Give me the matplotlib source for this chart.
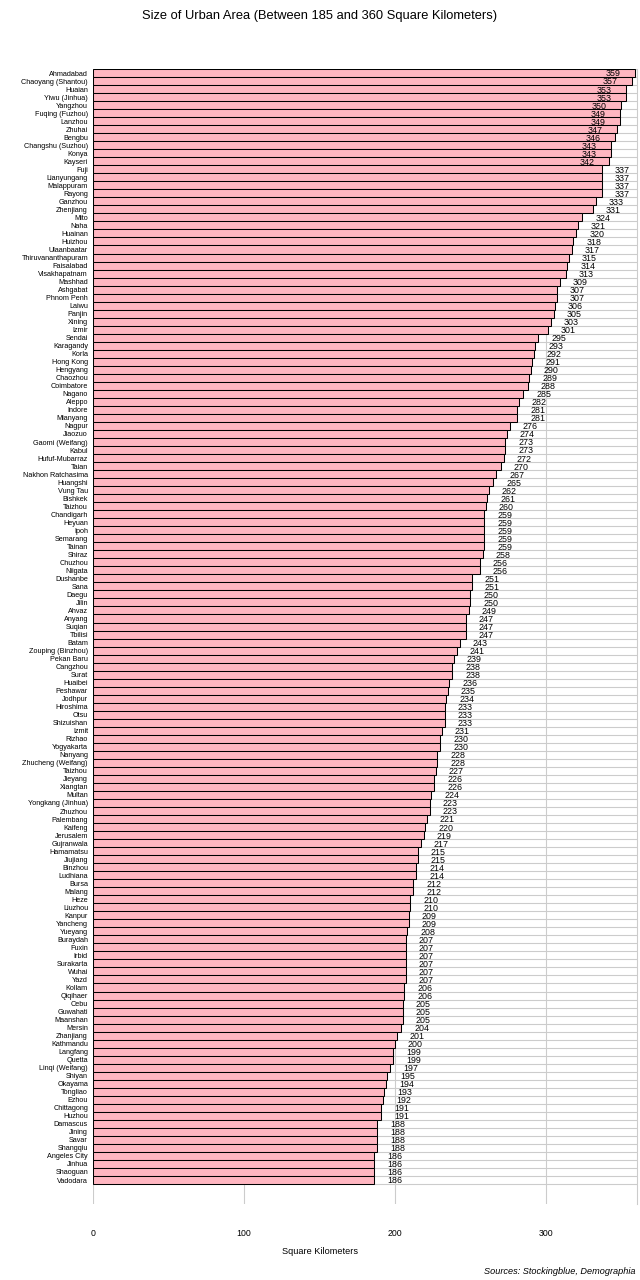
import matplotlib
matplotlib.use("Agg")
import matplotlib.pyplot as plt
import numpy as np

plt.rcParams['font.family'] = ['Liberation Sans', 'DejaVu Sans']

cities = [
    "Ahmadabad", "Chaoyang (Shantou)", "Huaian", "Yiwu (Jinhua)", "Yangzhou",
    "Fuqing (Fuzhou)", "Lanzhou", "Zhuhai", "Bengbu", "Changshu (Suzhou)",
    "Konya", "Kayseri", "Fuji", "Lianyungang", "Malappuram", "Rayong",
    "Ganzhou", "Zhenjiang", "Mito", "Naha", "Huainan", "Huizhou",
    "Ulaanbaatar", "Thiruvananthapuram", "Faisalabad", "Visakhapatnam",
    "Mashhad", "Ashgabat", "Phnom Penh", "Laiwu", "Panjin", "Xining", "Izmir",
    "Sendai", "Karagandy", "Korla", "Hong Kong", "Hengyang", "Chaozhou",
    "Coimbatore", "Nagano", "Aleppo", "Indore", "Mianyang", "Nagpur",
    "Jiaozuo", "Gaomi (Weifang)", "Kabul", "Hufuf-Mubarraz", "Taian",
    "Nakhon Ratchasima", "Huangshi", "Vung Tau", "Bishkek", "Taizhou",
    "Chandigarh", "Heyuan", "Ipoh", "Semarang", "Tainan", "Shiraz", "Chuzhou",
    "Niigata", "Dushanbe", "Sana", "Daegu", "Jilin", "Ahvaz", "Anyang",
    "Suqian", "Tbilisi", "Batam", "Zouping (Binzhou)", "Pekan Baru",
    "Cangzhou", "Surat", "Huaibei", "Peshawar", "Jodhpur", "Hiroshima", "Otsu",
    "Shizuishan", "Izmit", "Rizhao", "Yogyakarta", "Nanyang",
    "Zhucheng (Weifang)", "Taizhou", "Jieyang", "Xiangtan", "Multan",
    "Yongkang (Jinhua)", "Zhuzhou", "Palembang", "Kaifeng", "Jerusalem",
    "Gujranwala", "Hamamatsu", "Jiujiang", "Binzhou", "Ludhiana", "Bursa",
    "Malang", "Heze", "Liuzhou", "Kanpur", "Yancheng", "Yueyang", "Buraydah",
    "Fuxin", "Irbid", "Surakarta", "Wuhai", "Yazd", "Kollam", "Qiqihaer",
    "Cebu", "Guwahati", "Maanshan", "Mersin", "Zhanjiang", "Kathmandu",
    "Langfang", "Quetta", "Linqi (Weifang)", "Shiyan", "Okayama", "Tongliao",
    "Ezhou", "Chittagong", "Huzhou", "Damascus", "Jining", "Savar",
    "Shangqiu", "Angeles City", "Jinhua", "Shaoguan", "Vadodara",
]

areas = [
    359, 357, 353, 353, 350, 349, 349, 347, 346, 343, 343, 342, 337, 337, 337,
    337, 333, 331, 324, 321, 320, 318, 317, 315, 314, 313, 309, 307, 307, 306,
    305, 303, 301, 295, 293, 292, 291, 290, 289, 288, 285, 282, 281, 281, 276,
    274, 273, 273, 272, 270, 267, 265, 262, 261, 260, 259, 259, 259, 259, 259,
    258, 256, 256, 251, 251, 250, 250, 249, 247, 247, 247, 243, 241, 239, 238,
    238, 236, 235, 234, 233, 233, 233, 231, 230, 230, 228, 228, 227, 226, 226,
    224, 223, 223, 221, 220, 219, 217, 215, 215, 214, 214, 212, 212, 210, 210,
    209, 209, 208, 207, 207, 207, 207, 207, 207, 206, 206, 205, 205, 205, 204,
    201, 200, 199, 199, 197, 195, 194, 193, 192, 191, 191, 188, 188, 188, 188,
    186, 186, 186, 186,
]

xticks = [0, 100, 200, 300]
title = "Size of Urban Area (Between 185 and 360 Square Kilometers)"
xlabel = "Square Kilometers"
source = "Sources: Stockingblue, Demographia"

W, H = 640, 1280
fig = plt.figure(figsize=(W / 100, H / 100), dpi=100)
ax = fig.add_axes([93 / W, 1 - 1204 / H, (636.6 - 93) / W, (1204 - 69) / H])

n = len(cities)
y = np.arange(n)
ax.barh(y, areas, height=1.0, color="#ffb6c1", edgecolor="black",
        linewidth=0.75, zorder=3)

ax.set_xlim(0, 360)
ax.set_ylim(n - 0.5 + 2.49, -0.5)

ax.set_yticks(y)
ax.set_yticklabels(cities, fontsize=5.2)
ax.set_yticks(np.arange(n + 1) - 0.5, minor=True)
ax.tick_params(axis='y', which='both', length=0, pad=3.6)
ax.set_xticks(xticks)
ax.set_xticklabels([str(t) for t in xticks], fontsize=6.3)
ax.tick_params(axis='x', length=0, pad=18)

ax.set_axisbelow(True)
ax.grid(axis='x', which='major', color='#cccccc', linewidth=0.8)
ax.grid(axis='y', which='minor', color='#cccccc', linewidth=0.8)
ax.grid(axis='y', which='major', visible=False)

for s in ['top', 'left', 'bottom']:
    ax.spines[s].set_visible(False)
ax.spines['right'].set_color('#cccccc')
ax.spines['right'].set_linewidth(0.8)

for yi, v in zip(y, areas):
    if v > 340:
        ax.text(v - 9.6, yi + 0.12, str(v), ha='right', va='center',
                fontsize=6.4, color='black', zorder=4)
    else:
        ax.text(v + 8.6, yi + 0.12, str(v), ha='left', va='center',
                fontsize=6.4, color='black', zorder=4, clip_on=False)

fig.text(0.5, 1 - 16 / H, title, ha='center', va='center', fontsize=9.3)
fig.text(0.5, 1 - 1252 / H, xlabel, ha='center', va='center', fontsize=6.6)
fig.text(636 / W, 1 - 1272 / H, source, ha='right', va='center',
         fontsize=6.6, style='italic')

fig.savefig("out.png", dpi=100)
